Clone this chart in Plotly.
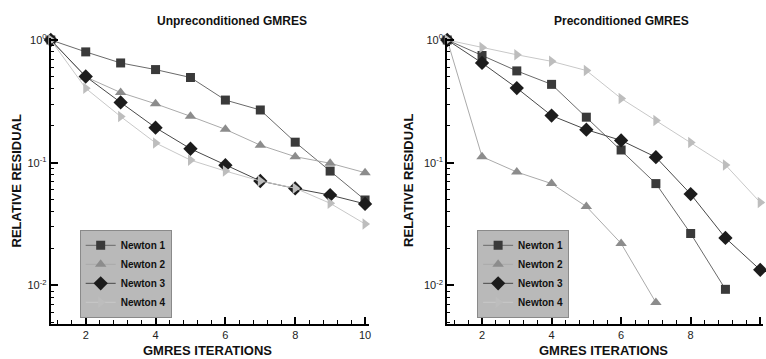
import plotly.graph_objects as go

iters = [1, 2, 3, 4, 5, 6, 7, 8, 9, 10]

# Unpreconditioned GMRES
unp_newton1 = [1.0, 0.80, 0.65, 0.574, 0.495, 0.324, 0.269, 0.147, 0.0855, 0.0497]
unp_newton2 = [1.0, 0.50, 0.373, 0.302, 0.239, 0.187, 0.139, 0.112, 0.099, 0.083]
unp_newton3 = [1.0, 0.504, 0.31, 0.193, 0.13, 0.0955, 0.071, 0.0617, 0.0545, 0.0462]
unp_newton4 = [1.0, 0.404, 0.238, 0.145, 0.105, 0.0855, 0.071, 0.062, 0.0467, 0.0317]

# Preconditioned GMRES
pre_newton1 = [1.0, 0.748, 0.56, 0.435, 0.235, 0.127, 0.0676, 0.0265, 0.0093]
pre_newton2 = [1.0, 0.112, 0.084, 0.0676, 0.044, 0.022, 0.00726]
pre_newton3 = [1.0, 0.65, 0.406, 0.242, 0.186, 0.152, 0.111, 0.0555, 0.0244, 0.0134]
pre_newton4 = [1.0, 0.867, 0.758, 0.67, 0.564, 0.334, 0.221, 0.146, 0.096, 0.0475]

names = ["Newton 1", "Newton 2", "Newton 3", "Newton 4"]
titles = ["Unpreconditioned GMRES", "Preconditioned GMRES"]
ytick_vals = [1, 0.1, 0.01]
ytick_text = ["10<sup>0</sup>", "10<sup>-1</sup>", "10<sup>-2</sup>"]
xtick_vals = [2, 4, 6, 8, 10]
minor_y = [m * d for d in (0.001, 0.01, 0.1) for m in range(2, 10)]

styles = [
    dict(symbol="square", mcolor="#3a3a3a", lcolor="#6a6a6a", size=9),
    dict(symbol="triangle-up", mcolor="#8c8c8c", lcolor="#aaaaaa", size=10),
    dict(symbol="diamond", mcolor="#1c1c1c", lcolor="#484848", size=11),
    dict(symbol="triangle-right", mcolor="#bdbdbd", lcolor="#c8c8c8", size=10),
]

fig = go.Figure()

series_sets = [
    [unp_newton1, unp_newton2, unp_newton3, unp_newton4],
    [pre_newton1, pre_newton2, pre_newton3, pre_newton4],
]

for p, series in enumerate(series_sets):
    xa = "x" if p == 0 else "x2"
    ya = "y" if p == 0 else "y2"
    lg = "legend" if p == 0 else "legend2"
    for i, vals in enumerate(series):
        st = styles[i]
        fig.add_trace(go.Scatter(
            x=iters[:len(vals)], y=vals, name=names[i], mode="lines+markers",
            xaxis=xa, yaxis=ya, legend=lg, cliponaxis=False,
            line=dict(color=st["lcolor"], width=1),
            marker=dict(symbol=st["symbol"], color=st["mcolor"], size=st["size"],
                        line=dict(width=0)),
        ))

ydom = [1 - 323 / 359, 1 - 33 / 359]
xdoms = [[51 / 766, 370 / 766], [449 / 766, 1.0]]
xranges = [[1, 10.1], [1, 10.08]]

axis_common_x = dict(
    showgrid=False, zeroline=False, showline=True, linecolor="black", linewidth=2,
    tickmode="array", tickvals=xtick_vals, ticks="inside", ticklen=7, tickwidth=2,
    tickcolor="black", tickfont=dict(family="Liberation Sans, Arial", size=11, color="#222"),
    minor=dict(tickmode="linear", tick0=2, dtick=0.4, ticks="inside", ticklen=4,
               tickwidth=1, tickcolor="black", showgrid=False),
)
axis_common_y = dict(
    type="log", range=[-2.31, 0.02], showgrid=False, zeroline=False, showline=True,
    linecolor="black", linewidth=2, tickmode="array", tickvals=ytick_vals,
    ticktext=ytick_text, ticks="inside", ticklen=7, tickwidth=2, tickcolor="black",
    tickfont=dict(family="Liberation Sans, Arial", size=11, color="#222"),
    minor=dict(tickmode="array", tickvals=minor_y, ticks="inside", ticklen=3,
               tickwidth=1, tickcolor="black", showgrid=False),
    domain=ydom,
)

legend_font = dict(family="Liberation Sans, Arial", size=10, color="#111", weight="bold")
fig.update_layout(
    width=766, height=359, margin=dict(l=0, r=0, t=0, b=0),
    paper_bgcolor="white", plot_bgcolor="white",
    xaxis=dict(domain=xdoms[0], range=xranges[0], anchor="y", **axis_common_x),
    xaxis2=dict(domain=xdoms[1], range=xranges[1], anchor="y2", **axis_common_x),
    yaxis=dict(anchor="x", **axis_common_y),
    yaxis2=dict(anchor="x2", **axis_common_y),
    legend=dict(x=80 / 766, y=1 - 228 / 359, xanchor="left", yanchor="top",
                bgcolor="#b9b9b9", bordercolor="#8a8a8a", borderwidth=1,
                font=legend_font, tracegroupgap=0, itemwidth=30),
    legend2=dict(x=479 / 766, y=1 - 228 / 359, xanchor="left", yanchor="top",
                 bgcolor="#b9b9b9", bordercolor="#8a8a8a", borderwidth=1,
                 font=legend_font, tracegroupgap=0, itemwidth=30),
    showlegend=True,
)

title_font = dict(family="Liberation Sans, Arial", size=12, color="#111", weight="bold")
axis_font = dict(family="Liberation Sans, Arial", size=13, color="#111", weight="bold")
ann = []
for cx, tx in [(233, titles[0]), (624, titles[1])]:
    ann.append(dict(text=tx, x=cx / 766, y=1 - 16 / 359, xref="paper", yref="paper",
                    showarrow=False, font=title_font, xanchor="center", yanchor="middle"))
for cx in (208, 606):
    ann.append(dict(text="GMRES ITERATIONS", x=cx / 766, y=1 - 350 / 359, xref="paper",
                    yref="paper", showarrow=False, font=axis_font,
                    xanchor="center", yanchor="middle"))
for cx in (17, 410):
    ann.append(dict(text="RELATIVE RESIDUAL", x=cx / 766, y=1 - 178 / 359, xref="paper",
                    yref="paper", showarrow=False, font=axis_font, textangle=-90,
                    xanchor="center", yanchor="middle"))
fig.update_layout(annotations=ann)

fig.write_html(
    "out.html",
    config={"displayModeBar": False},
    post_script="document.body.style.margin='0';document.body.style.padding='0';"
                "document.body.style.overflow='hidden';",
)
